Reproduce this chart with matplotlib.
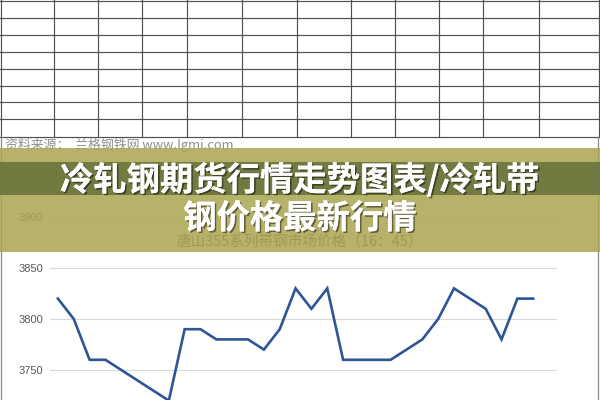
import matplotlib
matplotlib.use("Agg")
import matplotlib.pyplot as plt
import matplotlib.patheffects as pe
import numpy as np

plt.rcParams['font.family'] = ['Noto Sans CJK SC', 'DejaVu Sans']

# ---- data ----
prices = [3820, 3800, 3760, 3760, 3750, 3740, 3730, 3720, 3790, 3790,
          3780, 3780, 3780, 3770, 3790, 3830, 3810, 3830, 3760, 3760,
          3760, 3760, 3770, 3780, 3800, 3830, 3820, 3810, 3780, 3820, 3820]
n_slots = 32
yticks = [3750, 3800, 3850, 3900]
chart_title = "唐山355系列带钢市场价格（16：45）"
source_text = "资料来源：  兰格钢铁网 www.lgmi.com"
overlay_line1 = "冷轧钢期货行情走势图表/冷轧带"
overlay_line2 = "钢价格最新行情"

# ---- layout (pixels) ----
table_cols = [0.8, 54.3, 98.4, 142.4, 186.8, 241.5, 297.4, 351.3, 395.3, 439.3, 483.4, 538.9, 599.2]
table_rows = [1.0, 18.3, 35.0, 51.7, 69.0, 85.7, 102.3, 119.3, 136.5]

fig = plt.figure(figsize=(6, 4), dpi=100)
fig.patch.set_facecolor('white')

bg = fig.add_axes([0, 0, 1, 1], zorder=0)
bg.set_xlim(0, 600)
bg.set_ylim(400, 0)
bg.axis('off')
for x in table_cols:
    bg.plot([x, x], [0, table_rows[-1]], color='#505050', lw=0.85)
for y in table_rows:
    bg.plot([0, 600], [y, y], color='#505050', lw=0.85)
# chart frame sides
bg.plot([0.8, 0.8], [table_rows[-1], 400], color='#8a8a8a', lw=0.9)
bg.plot([598, 598], [table_rows[-1], 400], color='#8a8a8a', lw=0.9)
bg.text(5, 145, source_text, fontsize=9.3, color='#8f8f8f', style='italic',
        ha='left', va='center')
bg.text(300, 243, chart_title, fontsize=10.5, color='#595959',
        ha='center', va='center')

# ---- chart ----
ax = fig.add_axes([50 / 600, -50 / 400, 507 / 600, 250 / 400], zorder=1)
ax.patch.set_alpha(0)
x = np.arange(len(prices))
ax.plot(x, prices, color='#2f5597', lw=1.9, solid_joinstyle='miter')
ax.set_xlim(-0.5, n_slots - 0.5)
ax.set_ylim(3900 - 233 / 1.02, 3900 + 17 / 1.02)
ax.set_yticks(yticks)
ax.set_yticklabels([str(v) for v in yticks])
ax.tick_params(axis='y', length=0, pad=5, labelsize=8, labelcolor='#595959')
ax.set_xticks([])
ax.grid(axis='y', color='#d9d9d9', lw=0.8)
ax.set_axisbelow(True)
for s in ax.spines.values():
    s.set_visible(False)
for lab in ax.get_yticklabels():
    lab.set_fontfamily(['Liberation Sans', 'DejaVu Sans'])

# ---- overlay banner ----
ov = fig.add_axes([0, 0, 1, 1], zorder=2)
ov.set_xlim(0, 600)
ov.set_ylim(400, 0)
ov.axis('off')
ov.add_patch(plt.Rectangle((0, 148), 600, 104, color=(170/255, 166/255, 81/255), alpha=0.86, lw=0))
ov.add_patch(plt.Rectangle((0, 162), 600, 33, color='#66713c', alpha=0.85, lw=0))
shadow = [pe.withSimplePatchShadow(offset=(1.2, -1.2), shadow_rgbFace='black', alpha=0.45), pe.Normal()]
ov.text(300, 180, overlay_line1, fontsize=24, fontweight='bold', color='white',
        ha='center', va='center', path_effects=shadow)
ov.text(300, 219, overlay_line2, fontsize=24, fontweight='bold', color='white',
        ha='center', va='center', path_effects=shadow)

fig.savefig('out.png', dpi=100)
